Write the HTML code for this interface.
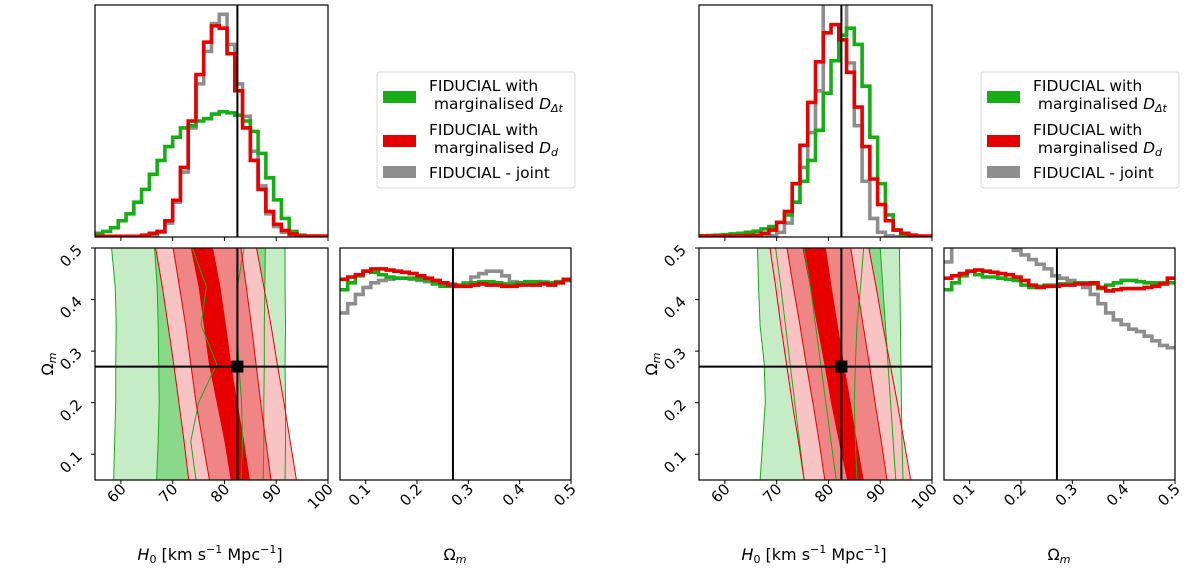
<!DOCTYPE html>
<html><head><meta charset="utf-8"><style>
html,body{margin:0;padding:0;background:#fff;}
svg{display:block;font-family:"DejaVu Sans","Liberation Sans",sans-serif;}
</style></head><body>
<svg id="chart" width="1200" height="572" viewBox="0 0 1200 572" xmlns="http://www.w3.org/2000/svg"></svg>
<script>
// ---- data ----
const h0Bins0 = 55, h0BinW = 1.5;
const omBins0 = 0.05, omBinW = 0.015;
const xTicksH0 = [60,70,80,90,100];
const yTicksOm = [0.1,0.2,0.3,0.4,0.5];
const xTicksOm = [0.1,0.2,0.3,0.4,0.5];
const truthH0 = 82.5, truthOm = 0.27;
const contourOmLevels = [0.05,0.125,0.2,0.275,0.35,0.425,0.5];

// left figure H0 histograms (normalised)
const leftH0Green = [0.016,0.024,0.04,0.07,0.10,0.15,0.205,0.27,0.33,0.39,0.43,0.47,0.48,0.50,0.51,0.53,0.54,0.535,0.525,0.50,0.455,0.36,0.255,0.16,0.08,0.024,0.008,0.003,0.003,0.003];
const leftH0Red = [0.003,0.003,0.003,0.003,0.003,0.003,0.008,0.016,0.024,0.07,0.158,0.30,0.50,0.70,0.84,0.91,0.90,0.79,0.63,0.47,0.33,0.205,0.11,0.055,0.028,0.013,0.004,0.004,0.004,0.004];
const leftH0Gray = [0.002,0.002,0.002,0.002,0.002,0.002,0.005,0.01,0.02,0.06,0.15,0.28,0.47,0.66,0.80,0.92,0.96,0.83,0.66,0.52,0.37,0.22,0.10,0.045,0.02,0.008,0.003,0.002,0.002,0.002];
// right figure H0 histograms
const rightH0Green = [0.005,0.006,0.008,0.01,0.013,0.016,0.02,0.025,0.035,0.045,0.063,0.095,0.15,0.24,0.33,0.46,0.62,0.76,0.87,0.90,0.83,0.65,0.43,0.23,0.095,0.03,0.008,0.003,0.003,0.003];
const rightH0Red = [0.004,0.004,0.004,0.004,0.004,0.005,0.006,0.008,0.016,0.03,0.063,0.11,0.23,0.395,0.58,0.755,0.88,0.915,0.85,0.71,0.56,0.39,0.25,0.14,0.07,0.03,0.016,0.008,0.004,0.004];
const rightH0Gray = [0.001,0.001,0.001,0.001,0.001,0.001,0.001,0.002,0.003,0.005,0.02,0.06,0.15,0.30,0.45,0.63,1.1,1.2,1.1,0.75,0.48,0.24,0.08,0.02,0.005,0.002,0.001,0.001,0.001,0.001];
// Omega_m histograms
const leftOmRed = [0.865,0.875,0.885,0.9,0.91,0.91,0.905,0.9,0.895,0.89,0.88,0.87,0.86,0.85,0.84,0.835,0.835,0.84,0.845,0.84,0.84,0.835,0.835,0.84,0.84,0.84,0.845,0.84,0.85,0.865];
const leftOmGreen = [0.82,0.85,0.88,0.9,0.895,0.885,0.875,0.87,0.87,0.87,0.865,0.86,0.845,0.835,0.835,0.84,0.845,0.85,0.855,0.855,0.85,0.845,0.845,0.85,0.855,0.855,0.85,0.85,0.855,0.86];
const leftOmGray = [0.72,0.76,0.8,0.83,0.85,0.86,0.865,0.87,0.87,0.865,0.86,0.855,0.85,0.85,0.845,0.84,0.85,0.875,0.89,0.9,0.9,0.88,0.855,0.845,0.845,0.85,0.855,0.85,0.85,0.86];
const rightOmRed = [0.87,0.88,0.89,0.9,0.905,0.9,0.895,0.89,0.885,0.875,0.86,0.84,0.83,0.835,0.835,0.84,0.84,0.845,0.845,0.85,0.83,0.815,0.82,0.825,0.825,0.825,0.83,0.835,0.845,0.87];
const rightOmGreen = [0.82,0.85,0.88,0.9,0.885,0.875,0.875,0.87,0.865,0.86,0.84,0.83,0.835,0.84,0.84,0.845,0.845,0.85,0.85,0.845,0.825,0.84,0.85,0.86,0.86,0.855,0.85,0.85,0.85,0.85];
const rightOmGray = [0.94,1.05,1.1,1.1,1.1,1.1,1.08,1.05,1.02,0.99,0.97,0.95,0.93,0.91,0.88,0.87,0.86,0.85,0.83,0.8,0.76,0.72,0.69,0.67,0.65,0.64,0.62,0.6,0.58,0.57];
// 2D contour band edges (H0 at contourOmLevels)
const leftGreenOuterL=[58.6,58.8,59.0,59.0,59.1,58.9,58.2], leftGreenOuterR=[91.7,91.8,91.8,91.7,91.8,91.7,91.7];
const leftGreenMidL=[66.9,67.2,67.4,67.3,67.2,67.0,66.5], leftGreenMidR=[87.5,87.6,87.6,87.7,87.7,87.8,87.9];
const leftGreenInL=[74.5,73.5,75,78.5,75.5,76.5,73.8], leftGreenInR=[83.2,83.5,83.3,82.8,82.4,82.5,83.8];
const leftRedOuterL=[73.1,72.2,71.2,70.2,69.1,68.0,66.7], leftRedOuterR=[93.9,92.7,91.5,90.2,89.0,87.6,86.2];
const leftRedMidL=[77.1,75.8,74.5,73.5,72.5,71.3,70.1], leftRedMidR=[89.0,88.0,87.0,86.1,85.2,84.2,83.2];
const leftRedInL=[81.2,80.0,78.5,77.0,76.0,75.0,73.5], leftRedInR=[84.9,83.8,82.5,81.3,80.3,79.2,77.8];
const rightGreenOuterL=[66.8,67.3,67.8,67.6,66.8,66.5,66.3], rightGreenOuterR=[94.4,94.2,94.1,94.0,93.9,93.8,93.7];
const rightGreenMidL=[75.3,74.4,73.5,72.6,71.7,70.8,69.8], rightGreenMidR=[93,92.5,92,91.5,91,90.5,90];
const rightGreenInL=[81.5,80.5,79.5,78.5,77.5,76.5,75.3], rightGreenInR=[85.5,85.2,85,85.2,85.5,86.2,86.8];
const rightRedOuterL=[75.3,74.2,73,71.9,70.8,69.8,68.7], rightRedOuterR=[95.9,94.6,93.3,91.9,90.5,89.2,87.8];
const rightRedMidL=[79.3,78.2,77,75.7,74.5,73.2,72], rightRedMidR=[91.3,90.2,89,87.9,86.7,85.5,84.3];
const rightRedInL=[83.6,82.0,80.5,79.2,77.8,76.4,75], rightRedInR=[86.8,85.5,84.3,83.0,81.8,80.6,79.5];

const NS="http://www.w3.org/2000/svg";
const svg=document.getElementById('chart');
function mk(tag,attrs,parent){const e=document.createElementNS(NS,tag);for(const k in attrs)e.setAttribute(k,attrs[k]);(parent||svg).appendChild(e);return e;}
const GREEN='#17ad17', RED='#e60000', GRAY='#8e8e8e';

function stepPath(vals,x0,bw,xs,ys,closed){
  let d='';
  vals.forEach((v,i)=>{d+=(i===0?(closed?'M'+xs(x0)+','+ys(0)+' L':'M'):' L')+xs(x0+i*bw)+','+ys(v)+' L'+xs(x0+(i+1)*bw)+','+ys(v);});
  if(closed)d+=' L'+xs(x0+vals.length*bw)+','+ys(0);
  return d;
}

function drawFigure(fx,pre,d){
  const g=mk('g',{});
  
  
  const ax0=fx, ax1=fx+233, bx0=fx+245, bx1=fx+476;
  const hx=h=>ax0+(h-55)/45*233;
  const topY=v=>237-v*232;
  const oy=o=>480-(o-0.05)/0.45*232;
  const ox=o=>bx0+(o-0.05)/0.45*231;
  const ry=v=>480-v*232;
  const cid=pre+'clip';
  const defs=mk('defs',{},g);
  const c1=mk('clipPath',{id:cid+'a'},defs);mk('rect',{x:ax0,y:5,width:233,height:232},c1);
  const c2=mk('clipPath',{id:cid+'b'},defs);mk('rect',{x:ax0,y:248,width:233,height:232},c2);
  const c3=mk('clipPath',{id:cid+'c'},defs);mk('rect',{x:bx0,y:248,width:231,height:232},c3);

  const th=mk('g',{'clip-path':'url(#'+cid+'a)'},g);
  [[d.h0Gray,GRAY,'gray'],[d.h0Green,GREEN,'green'],[d.h0Red,RED,'red']].forEach(([v,c,n])=>{
    const p=mk('path',{d:stepPath(v,h0Bins0,h0BinW,hx,topY,true),fill:'none',stroke:c,'stroke-width':3.6,'stroke-linejoin':'miter'},th);
    
    
  });
  mk('line',{x1:hx(truthH0),x2:hx(truthH0),y1:5,y2:237,stroke:'#000','stroke-width':2},g);
  const f1=mk('rect',{x:ax0,y:5,width:233,height:232,fill:'none',stroke:'#000','stroke-width':1.2},g);
  
  xTicksH0.forEach(t=>mk('line',{x1:hx(t),x2:hx(t),y1:237,y2:241,stroke:'#000'},g));

  const cg=mk('g',{'clip-path':'url(#'+cid+'b)'},g);
  function band(L,R,fill,stroke,sw,name){
    let pts=[];
    contourOmLevels.forEach((o,i)=>pts.push(hx(L[i])+','+oy(o)));
    for(let i=contourOmLevels.length-1;i>=0;i--)pts.push(hx(R[i])+','+oy(contourOmLevels[i]));
    const p=mk('polygon',{points:pts.join(' '),fill:fill,stroke:stroke,'stroke-width':sw},cg);
    
    
  }
  band(d.gOL,d.gOR,'#c6ecc6','none',0,pre+'-green-contour-outer');
  band(d.gML,d.gMR,'#8ad88a','none',0,pre+'-green-contour-mid');
  band(d.gIL,d.gIR,'#3cc03c','none',0,pre+'-green-contour-inner');
  band(d.rOL,d.rOR,'#f7c3c3','none',0,pre+'-red-contour-outer');
  band(d.rML,d.rMR,'#f08585','none',0,pre+'-red-contour-mid');
  band(d.rIL,d.rIR,'#e60000','none',0,pre+'-red-contour-inner');
  band(d.gOL,d.gOR,'none',GREEN,1,pre+'-green-line-outer');
  band(d.gML,d.gMR,'none',GREEN,1,pre+'-green-line-mid');
  band(d.gIL,d.gIR,'none',GREEN,1,pre+'-green-line-inner');
  band(d.rOL,d.rOR,'none',RED,1,pre+'-red-line-outer');
  band(d.rML,d.rMR,'none',RED,1,pre+'-red-line-mid');
  mk('line',{x1:hx(truthH0),x2:hx(truthH0),y1:248,y2:480,stroke:'#000','stroke-width':2},g);
  mk('line',{x1:ax0,x2:ax1,y1:oy(truthOm),y2:oy(truthOm),stroke:'#000','stroke-width':2},g);
  const sq=mk('rect',{x:hx(truthH0)-6,y:oy(truthOm)-6,width:12,height:12,fill:'#000'},g);
  
  const f2=mk('rect',{x:ax0,y:248,width:233,height:232,fill:'none',stroke:'#000','stroke-width':1.2},g);
  
  xTicksH0.forEach(t=>{
    mk('line',{x1:hx(t),x2:hx(t),y1:480,y2:484,stroke:'#000'},g);
    const tx=mk('text',{x:0,y:0,'font-size':15,'text-anchor':'end',transform:'translate('+(hx(t)+6)+',490) rotate(-45)'},g);
    tx.textContent=t;
    
  });
  yTicksOm.forEach(t=>{
    mk('line',{x1:ax0-4,x2:ax0,y1:oy(t),y2:oy(t),stroke:'#000'},g);
    const tx=mk('text',{x:0,y:0,'font-size':15,'text-anchor':'end',transform:'translate('+(ax0-12)+','+(oy(t)+3)+') rotate(-45)'},g);
    tx.textContent=t.toFixed(1);
    
  });
  const yl=mk('text',{x:0,y:0,'font-size':16,'text-anchor':'middle',transform:'translate('+(fx-42)+',364) rotate(-90)'},g);
  yl.innerHTML='Ω<tspan font-style="italic" font-size="11" dy="3">m</tspan>';
  
  const xl=mk('text',{x:ax0+115,y:560,'font-size':16,'text-anchor':'middle'},g);
  xl.innerHTML='<tspan font-style="italic">H</tspan><tspan font-size="11" dy="3">0</tspan><tspan dy="-3"> [km s</tspan><tspan font-size="11" dy="-7">−1</tspan><tspan dy="7"> Mpc</tspan><tspan font-size="11" dy="-7">−1</tspan><tspan dy="7">]</tspan>';
  

  const oh=mk('g',{'clip-path':'url(#'+cid+'c)'},g);
  [[d.omGray,GRAY,'gray'],[d.omGreen,GREEN,'green'],[d.omRed,RED,'red']].forEach(([v,c,n])=>{
    const p=mk('path',{d:stepPath(v,omBins0,omBinW,ox,ry,false),fill:'none',stroke:c,'stroke-width':3.6},oh);
    
    
  });
  mk('line',{x1:ox(truthOm),x2:ox(truthOm),y1:248,y2:480,stroke:'#000','stroke-width':2},g);
  const f3=mk('rect',{x:bx0,y:248,width:231,height:232,fill:'none',stroke:'#000','stroke-width':1.2},g);
  
  xTicksOm.forEach(t=>{
    mk('line',{x1:ox(t),x2:ox(t),y1:480,y2:484,stroke:'#000'},g);
    const tx=mk('text',{x:0,y:0,'font-size':15,'text-anchor':'end',transform:'translate('+(ox(t)+6)+',490) rotate(-45)'},g);
    tx.textContent=t.toFixed(1);
    
  });
  const xl2=mk('text',{x:bx0+115,y:560,'font-size':16,'text-anchor':'middle'},g);
  xl2.innerHTML='Ω<tspan font-style="italic" font-size="11" dy="3">m</tspan>';
  

  const lx=fx+282, lg=mk('g',{},g);
  
  mk('rect',{x:lx,y:72,width:198,height:116,rx:3,fill:'#fff',stroke:'#d8d8d8'},lg);
  const entries=[[GREEN,97,'FIDUCIAL with',' marginalised ','Δt'],[RED,141,'FIDUCIAL with',' marginalised ','d'],[GRAY,172,'FIDUCIAL - joint',null,null]];
  entries.forEach(([c,cy,l1,l2,sub])=>{
    const e=mk('g',{},lg);
    
    mk('rect',{x:lx+6,y:cy-6,width:33,height:12,fill:c},e);
    if(l2){
      const t1=mk('text',{x:lx+52,y:cy-6,'font-size':15.5},e);t1.textContent=l1;
      const t2=mk('text',{x:lx+52,y:cy+12,'font-size':15.5},e);
      t2.innerHTML='<tspan xml:space="preserve">'+l2+'</tspan><tspan font-style="italic">D</tspan><tspan font-size="11" dy="3" font-style="italic">'+sub+'</tspan>';
    } else {
      const t1=mk('text',{x:lx+52,y:cy+6,'font-size':15.5},e);t1.textContent=l1;
    }
  });
}

drawFigure(95,'left',{h0Green:leftH0Green,h0Red:leftH0Red,h0Gray:leftH0Gray,omGreen:leftOmGreen,omRed:leftOmRed,omGray:leftOmGray,
  gOL:leftGreenOuterL,gOR:leftGreenOuterR,gML:leftGreenMidL,gMR:leftGreenMidR,gIL:leftGreenInL,gIR:leftGreenInR,
  rOL:leftRedOuterL,rOR:leftRedOuterR,rML:leftRedMidL,rMR:leftRedMidR,rIL:leftRedInL,rIR:leftRedInR});
drawFigure(699,'right',{h0Green:rightH0Green,h0Red:rightH0Red,h0Gray:rightH0Gray,omGreen:rightOmGreen,omRed:rightOmRed,omGray:rightOmGray,
  gOL:rightGreenOuterL,gOR:rightGreenOuterR,gML:rightGreenMidL,gMR:rightGreenMidR,gIL:rightGreenInL,gIR:rightGreenInR,
  rOL:rightRedOuterL,rOR:rightRedOuterR,rML:rightRedMidL,rMR:rightRedMidR,rIL:rightRedInL,rIR:rightRedInR});
</script>
</body></html>
